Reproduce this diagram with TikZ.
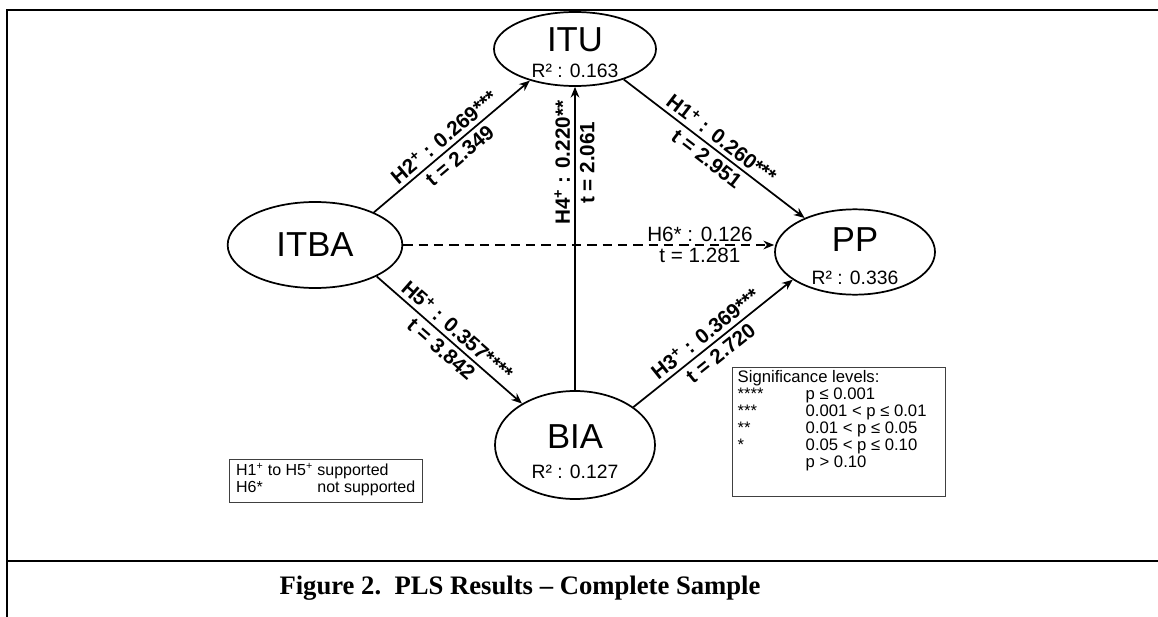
\documentclass[tikz,border=0pt]{standalone}
\usepackage{fontspec}
\setmainfont{Liberation Sans}
\newfontfamily\captionfont{Liberation Serif}
\usepackage{tikz}
\usetikzlibrary{arrows.meta,shapes.geometric}

\begin{document}
\begin{tikzpicture}[
  x=0.75pt, y=-0.75pt,
  construct/.style={ellipse, draw=black, line width=1.3pt, inner sep=0pt},
  cname/.style={font=\fontsize{26}{26}\selectfont, inner sep=0pt},
  rsq/.style={font=\fontsize{14.5}{14.5}\selectfont, inner sep=0pt},
  arrow/.style={-{Stealth[length=8pt, width=6.5pt]}, line width=1.3pt},
  coef/.style={font=\fontsize{15.5}{15.5}\selectfont\bfseries, sloped, inner sep=3pt},
  plain/.style={font=\fontsize{15.5}{15.5}\selectfont, inner sep=1.5pt},
  legend/.style={draw=black!75, line width=0.6pt, align=left},
  frame/.style={line width=2.2pt}
]
\useasboundingbox (0,0) rectangle (1158,617);

% frame and caption
\draw[frame] (7,617) -- (7,10) -- (1158,10);
\draw[frame] (7,561) -- (1158,561);
\node[font=\captionfont\bfseries\fontsize{20}{20}\selectfont] (caption) at (520,588) {Figure 2.\ \ PLS Results – Complete Sample};

% constructs
\node[construct, minimum width=121.5pt, minimum height=55.5pt] (itu) at (575,49) {};
\node[construct, minimum width=131pt, minimum height=64.5pt] (itba) at (315,245) {};
\node[construct, minimum width=120pt, minimum height=64pt] (pp) at (855,252) {};
\node[construct, minimum width=120pt, minimum height=81pt] (bia) at (575,445) {};

\node[cname] (itutext) at (575,40) {ITU};
\node[rsq] (itur) at (575,71) {R² : 0.163};
\node[cname] (itbatext) at (315,245) {ITBA};
\node[cname] (pptext) at (855,240) {PP};
\node[rsq] (ppr) at (855,278) {R² : 0.336};
\node[cname] (biatext) at (575,437) {BIA};
\node[rsq] (biar) at (575,472) {R² : 0.127};

% paths
\draw[arrow] (itba.29) -- (itu.215)
  node[coef, midway, above] {H2\textsuperscript{+} : 0.269***}
  node[coef, midway, below] {t = 2.349};
\draw[arrow] (itu.328) -- (pp.146)
  node[coef, midway, above] {H1\textsuperscript{+} : 0.260***}
  node[coef, midway, below] {t = 2.951};
\draw[arrow] (bia.north) -- (itu.south)
  node[coef, pos=0.75, above] {H4\textsuperscript{+} : 0.220**}
  node[coef, pos=0.75, below] {t = 2.061};
\draw[arrow] (itba.333) -- (bia.142)
  node[coef, midway, above] {H5\textsuperscript{+} : 0.357****}
  node[coef, midway, below] {t = 3.842};
\draw[arrow] (bia.33) -- (pp.204)
  node[coef, midway, above] {H3\textsuperscript{+} : 0.369***}
  node[coef, midway, below] {t = 2.720};
\draw[arrow, dash pattern=on 7pt off 4.5pt] (itba.east) -- (itba.east -| pp.west)
  node[plain, pos=0.8, above] {H6* : 0.126}
  node[plain, pos=0.8, below] {t = 1.281};

% legends
\node[legend, font=\fontsize{12}{13}\selectfont, anchor=north west, inner xsep=5pt, inner ysep=3pt] (support) at (229,459) {%
  \begin{tabular}{@{}p{61pt}@{}l@{}}
  H1\textsuperscript{+} to H5\textsuperscript{+} & supported\\
  H6* & not supported
  \end{tabular}};
\node[legend, font=\fontsize{12.5}{12.75}\selectfont, anchor=north west, inner xsep=4pt, inner ysep=2pt] (signif) at (732,367) {%
  \begin{minipage}[t][93pt][t]{152pt}
  \begin{tabular}{@{}p{51pt}@{}l@{}}
  \multicolumn{2}{@{}l@{}}{Significance levels:}\\
  {****} & p ≤ 0.001\\
  {***} & 0.001 < p ≤ 0.01\\
  {**} & 0.01 < p ≤ 0.05\\
  {*} & 0.05 < p ≤ 0.10\\
   & p > 0.10
  \end{tabular}
  \end{minipage}};
\end{tikzpicture}
\end{document}
